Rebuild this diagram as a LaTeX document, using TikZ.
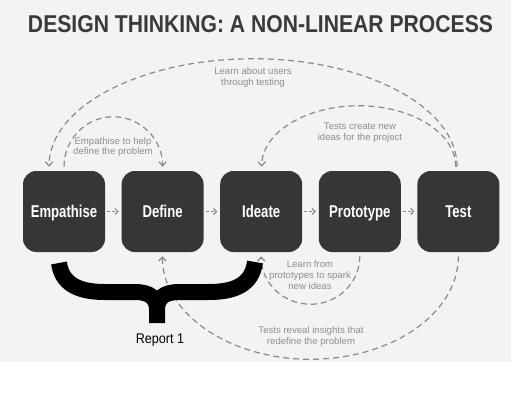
\documentclass[tikz,border=0pt]{standalone}
\usepackage{fontspec}
\setmainfont{Liberation Sans}
\usetikzlibrary{arrows.meta,calc}
\definecolor{bgg}{HTML}{F3F3F3}
\definecolor{boxc}{HTML}{363636}
\definecolor{titlec}{HTML}{3A3A3A}
\definecolor{linec}{HTML}{8A8A8A}
\definecolor{txtc}{HTML}{8E8E8E}
\begin{document}
\begin{tikzpicture}[x=0.75pt,y=-0.75pt,
  stagebox/.style={fill=boxc, rounded corners=10pt, minimum width=61.5pt, minimum height=60.75pt,
    inner sep=0pt, text=white, text height=9pt, text depth=0pt,
    font=\fontsize{12.8}{14}\selectfont\bfseries},
  flow/.style={draw=linec, line width=0.9pt, dash pattern=on 2.2pt off 1.5pt,
    -{Straight Barb[length=2.2pt,width=4.5pt]}, shorten <=1.5pt, shorten >=2pt},
  loop/.style={draw=linec, line width=0.9pt, dash pattern=on 4.5pt off 3pt,
    -{Straight Barb[length=3pt,width=5.5pt]}},
  note/.style={text=txtc, align=center, inner sep=0pt, font=\fontsize{7.2}{8.2}\selectfont},
  brace/.style={draw=black, line width=12pt, line join=round}
]
\useasboundingbox (0,0) rectangle (511,415);
\fill[white] (0,0) rectangle (511,415);
\fill[bgg] (0,0) rectangle (511,362);

\node[anchor=base, inner sep=0pt, text=titlec] (title) at (260.5,32)
  {\resizebox{348.75pt}{12.75pt}{\bfseries DESIGN THINKING: A NON-LINEAR PROCESS}};

\node[stagebox] (emp) at (64,211.5) {\scalebox{0.77}[1]{Empathise}};
\node[stagebox] (def) at (162.6,211.5) {\scalebox{0.77}[1]{Define}};
\node[stagebox] (ide) at (261.2,211.5) {\scalebox{0.77}[1]{Ideate}};
\node[stagebox] (pro) at (359.8,211.5) {\scalebox{0.77}[1]{Prototype}};
\node[stagebox] (tst) at (458.4,211.5) {\scalebox{0.77}[1]{Test}};

\draw[flow] (emp) -- (def);
\draw[flow] (def) -- (ide);
\draw[flow] (ide) -- (pro);
\draw[flow] (pro) -- (tst);

% top loops
\draw[loop] ([xshift=-1pt,yshift=3pt]tst.north) arc[start angle=0,end angle=-180,x radius=204,y radius=108];
\draw[loop] ([yshift=3pt]emp.north) arc[start angle=180,end angle=360,x radius=49.3,y radius=50];
\draw[loop] ([xshift=-2pt,yshift=3pt]tst.north) arc[start angle=0,end angle=-180,x radius=97,y radius=61];
% bottom loops
\draw[loop] ([yshift=-3pt]pro.south) arc[start angle=0,end angle=180,x radius=49.3,y radius=48];
\draw[loop] ([yshift=-3pt]tst.south) arc[start angle=0,end angle=180,x radius=148,y radius=103];

\node[note] (n1) at (253,77.5) {Learn about users\\through testing};
\node[note] (n2) at (113,147) {Empathise to help\\define the problem};
\node[note] (n3) at (360,132.5) {Tests create new\\ideas for the project};
\node[note] (n4) at (310,275) {Learn from\\prototypes to spark\\new ideas};
\node[note] (n5) at (311,336.5) {Tests reveal insights that\\redefine the problem};

% brace
\draw[brace] (59,263) .. controls (62,285) and (80,292) .. (105,292) -- (135,292)
  .. controls (150,292) and (157,298) .. (157,310) -- (157,323);
\draw[brace] (255,262) .. controls (252,285) and (234,292) .. (209,292) -- (179,292)
  .. controls (164,292) and (157,298) .. (157,310);

\node[inner sep=0pt, font=\fontsize{10.5}{12}\selectfont] (rep) at (160,340) {\scalebox{0.9}[1]{Report 1}};
\end{tikzpicture}
\end{document}
